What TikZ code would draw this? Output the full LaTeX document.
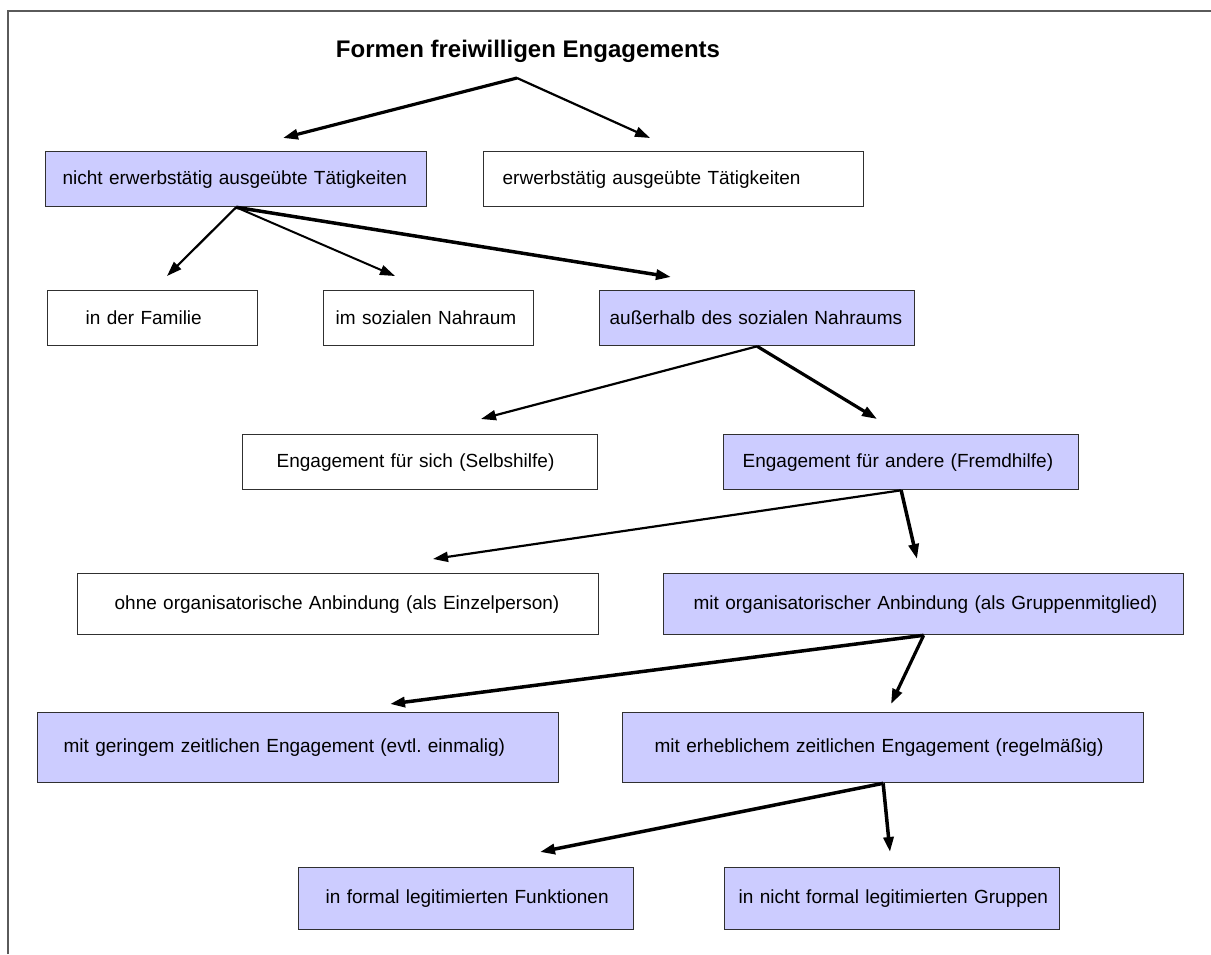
\documentclass[tikz,border=0pt]{standalone}
\usepackage{fontspec}
\setmainfont{Liberation Sans}
\usetikzlibrary{arrows.meta}
\definecolor{boxfill}{HTML}{CCCCFF}
\definecolor{boxline}{HTML}{303030}
\definecolor{framegray}{HTML}{5A5A5A}
\frenchspacing
\begin{document}
\begin{tikzpicture}[x=1pt,y=-1pt,
  font=\fontsize{19}{23}\selectfont,
  box/.style={draw=boxline, line width=1.3pt, rectangle, anchor=north west,
    inner xsep=0pt, inner ysep=0pt, align=left},
  hi/.style={box, fill=boxfill},
  lo/.style={box, fill=white},
  sz/.style 2 args={text width=#1pt, minimum height=#2pt},
  link/.style={-{Triangle[length=15pt,width=10pt]}, line width=#1pt, black},
  frame/.style={draw=framegray, line width=1.6pt}]

\useasboundingbox (0,0) rectangle (1211,954);

% outer frame (top and left edge only)
\draw[frame] (8,954) -- (8,11) -- (1211,11);

% title
\node[font=\bfseries\fontsize{24}{29}\selectfont, anchor=base] (title) at (528,57)
  {Formen freiwilligen Engagements};
\coordinate (fork) at (517,78);

% boxes
\node[hi, sz={381}{55}] (a) at (45,151) {\hspace*{17pt}nicht erwerbstätig ausgeübte Tätigkeiten};
\node[lo, sz={380}{55}] (b) at (483,151) {\hspace*{19pt}erwerbstätig ausgeübte Tätigkeiten};

\node[lo, sz={210}{55}] (fam) at (47,290) {\hspace*{38pt}in der Familie};
\node[lo, sz={210}{55}] (nah) at (323,290) {\hspace*{12pt}im sozialen Nahraum};
\node[hi, sz={315}{55}] (aus) at (599,290) {\hspace*{10pt}außerhalb des sozialen Nahraums};

\node[lo, sz={355}{55}] (sel) at (242,434) {\hspace*{34pt}Engagement für sich (Selbshilfe)};
\node[hi, sz={355}{55}] (fre) at (723,434) {\hspace*{19pt}Engagement für andere (Fremdhilfe)};

\node[lo, sz={521}{61}] (ohne) at (77,573) {\hspace*{37pt}ohne organisatorische Anbindung (als Einzelperson)};
\node[hi, sz={520}{61}] (mit) at (663,573) {\hspace*{30pt}mit organisatorischer Anbindung (als Gruppenmitglied)};

\node[hi, sz={521}{70}] (ger) at (37,712) {\hspace*{26pt}mit geringem zeitlichen Engagement (evtl. einmalig)};
\node[hi, sz={521}{70}] (erh) at (622,712) {\hspace*{32pt}mit erheblichem zeitlichen Engagement (regelmäßig)};

\node[hi, sz={335}{62}] (form) at (298,867) {\hspace*{27pt}in formal legitimierten Funktionen};
\node[hi, sz={335}{62}] (nform) at (724,867) {\hspace*{14pt}in nicht formal legitimierten Gruppen};

% free arrow ends
\coordinate (ta) at (283,138);
\coordinate (tb) at (650,138);
\coordinate (tfam) at (167,276);
\coordinate (tnah) at (395,276);
\coordinate (taus) at (671,277);
\coordinate (tsel) at (481,419);
\coordinate (tfre) at (877,419);
\coordinate (tohne) at (433,559);
\coordinate (tmit) at (917,559);
\coordinate (tger) at (390,704);
\coordinate (terh) at (891,704);
\coordinate (tform) at (540,852);
\coordinate (tnform) at (890,852);

% connectors
\draw[link=3.2] (fork) -- (ta);
\draw[link=2.2] (fork) -- (tb);
\draw[link=2.2] (a.south) -- (tfam);
\draw[link=2] (a.south) -- (tnah);
\draw[link=3.5] (a.south) -- (taus);
\draw[link=2.2] (aus.south) -- (tsel);
\draw[link=3.2] (aus.south) -- (tfre);
\draw[link=2.2] (fre.south) -- (tohne);
\draw[link=3.5] (fre.south) -- (tmit);
\draw[link=3.5] (mit.south) -- (tger);
\draw[link=3.2] (mit.south) -- (terh);
\draw[link=3.5] (erh.south) -- (tform);
\draw[link=3.5] (erh.south) -- (tnform);
\end{tikzpicture}
\end{document}
